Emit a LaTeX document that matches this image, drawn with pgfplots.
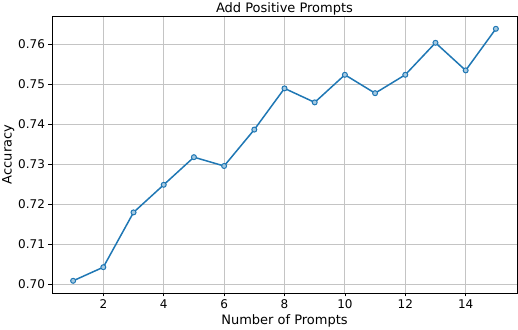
\documentclass[border=0pt]{standalone}
\usepackage{fontspec}
\setmainfont{DejaVu Sans}
\usepackage{pgfplots}
\pgfplotsset{compat=1.18}
\usetikzlibrary{calc}
\definecolor{mplblue}{HTML}{1F77B4}
\definecolor{gridgray}{HTML}{C4C4C4}

\begin{document}
\begin{tikzpicture}
\begin{axis}[
  name=ax,
  scale only axis,
  width=465pt, height=277pt,
  xmin=0.3, xmax=15.7,
  ymin=0.69775, ymax=0.767,
  xtick={2,4,...,14},
  ytick={0.70,0.71,...,0.76},
  yticklabel style={/pgf/number format/.cd, fixed, fixed zerofill, precision=2},
  /pgf/number format/assume math mode=true,
  tick label style={font=\fontsize{12}{14}\selectfont},
  label style={font=\fontsize{13}{15}\selectfont},
  % the default title style already shifts up 6pt
  title style={font=\fontsize{13}{15}\selectfont, anchor=base, yshift=-2.5pt},
  title={Add Positive Prompts},
  xlabel={Number of Prompts},
  ylabel={Accuracy},
  xlabel style={yshift=1pt},
  ylabel style={yshift=-3pt},
  grid=major,
  grid style={gridgray, line width=0.8pt},
  axis line style={black, line width=0.7pt},
  tick align=outside,
  tick pos=left,
  major tick length=3.5pt,
  tick style={black, line width=0.7pt},
]
\addplot[mplblue, line width=1.5pt, mark=*, mark size=2.5pt,
  mark options={fill=mplblue!40, draw=mplblue, line width=1pt}]
coordinates {
  (1,0.7008)(2,0.7042)(3,0.7179)(4,0.7248)(5,0.7317)
  (6,0.7295)(7,0.7386)(8,0.7489)(9,0.7454)(10,0.7523)
  (11,0.7477)(12,0.7523)(13,0.7603)(14,0.7534)(15,0.7638)
};
\end{axis}
\pgfresetboundingbox
\path ($(ax.south west)+(-52pt,-37pt)$) rectangle ($(ax.north east)+(1pt,16pt)$);
\end{tikzpicture}
\end{document}
